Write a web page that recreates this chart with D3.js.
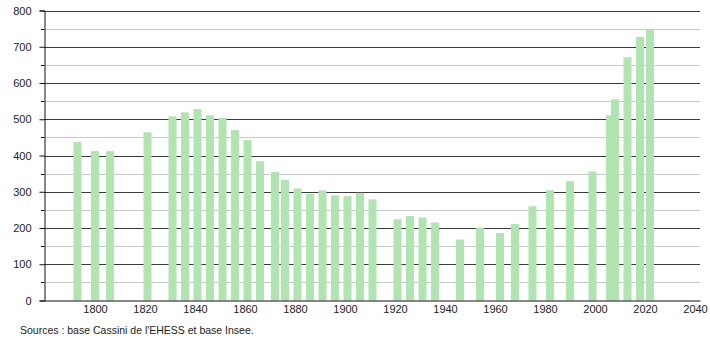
<!DOCTYPE html>
<html>
<head>
<meta charset="utf-8">
<script src="https://cdn.jsdelivr.net/npm/d3@7"></script>
<style>
  body { margin: 0; background: #fff; }
  svg { display: block; font-family: "Liberation Sans", Arial, sans-serif; }
</style>
</head>
<body>
<svg id="chart" width="710" height="340"></svg>
<script>
const years = [1793, 1800, 1806, 1821, 1831, 1836, 1841, 1846, 1851, 1856, 1861, 1866,
  1872, 1876, 1881, 1886, 1891, 1896, 1901, 1906, 1911, 1921, 1926, 1931, 1936,
  1946, 1954, 1962, 1968, 1975, 1982, 1990, 1999, 2006, 2008, 2013, 2018, 2022];
const population = [437, 412, 412, 464, 508, 519, 528, 511, 504, 470, 443, 384,
  355, 333, 309, 294, 304, 290, 288, 297, 279, 224, 233, 229, 215,
  168, 201, 186, 211, 260, 304, 329, 356, 511, 555, 671, 727, 746];
const xTicks = [1800, 1820, 1840, 1860, 1880, 1900, 1920, 1940, 1960, 1980, 2000, 2020, 2040];
const yTicks = [0, 100, 200, 300, 400, 500, 600, 700, 800];
const yMinorTicks = [50, 150, 250, 350, 450, 550, 650, 750];
const sourceText = "Sources : base Cassini de l'EHESS et base Insee.";

const svg = d3.select("#chart");
const mLeft = 44, mRight = 700, mTop = 10.5, mBottom = 300.5;
const x = d3.scaleLinear().domain([1779.6, 2042]).range([mLeft, mRight]);
const y = d3.scaleLinear().domain([0, 800]).range([mBottom, mTop]);

// minor gridlines
svg.append("g").selectAll("line").data(yMinorTicks).join("line")
  .attr("x1", mLeft).attr("x2", mRight)
  .attr("y1", d => Math.round(y(d)) + 0.5).attr("y2", d => Math.round(y(d)) + 0.5)
  .attr("stroke", "#c8c8c8").attr("stroke-width", 1);

// major gridlines
svg.append("g").selectAll("line").data(yTicks.filter(d => d > 0)).join("line")
  .attr("x1", mLeft).attr("x2", mRight)
  .attr("y1", d => Math.round(y(d)) + 0.5).attr("y2", d => Math.round(y(d)) + 0.5)
  .attr("stroke", "#3a3a3a").attr("stroke-width", 1);

// bars
const barW = 8;
svg.append("g").selectAll("rect").data(years).join("rect")
  .attr("x", (d) => x(d) - barW / 2)
  .attr("width", barW)
  .attr("y", (d, i) => y(population[i]))
  .attr("height", (d, i) => y(0) - y(population[i]))
  .attr("fill", "#b0e4b0");

// y axis
const yAxis = d3.axisLeft(y).tickValues(yTicks).tickSize(5).tickPadding(8).tickFormat(d3.format("d"));
const gy = svg.append("g").attr("transform", `translate(${mLeft + 0.5},0)`).call(yAxis);
gy.select(".domain").attr("stroke", "#111");
gy.selectAll(".tick line").attr("stroke", "#111");
gy.selectAll(".tick text").attr("font-size", 11).attr("fill", "#222").attr("font-family", "Liberation Sans, Arial, sans-serif");
// minor ticks on y axis
svg.append("g").selectAll("line").data(yMinorTicks).join("line")
  .attr("x1", mLeft - 3).attr("x2", mLeft)
  .attr("y1", d => Math.round(y(d)) + 0.5).attr("y2", d => Math.round(y(d)) + 0.5)
  .attr("stroke", "#111");

// x axis
const xAxis = d3.axisBottom(x).tickValues(xTicks).tickSize(0).tickPadding(5).tickFormat(d3.format("d"));
const gx = svg.append("g").attr("transform", `translate(0,${mBottom})`).call(xAxis);
gx.select(".domain").attr("stroke", "#111");
gx.selectAll(".tick text").attr("font-size", 11).attr("fill", "#222").attr("font-family", "Liberation Sans, Arial, sans-serif");

// source
svg.append("text").attr("x", 20).attr("y", 334)
  .attr("font-size", 10.5).attr("fill", "#222")
  .text(sourceText);
</script>
</body>
</html>
